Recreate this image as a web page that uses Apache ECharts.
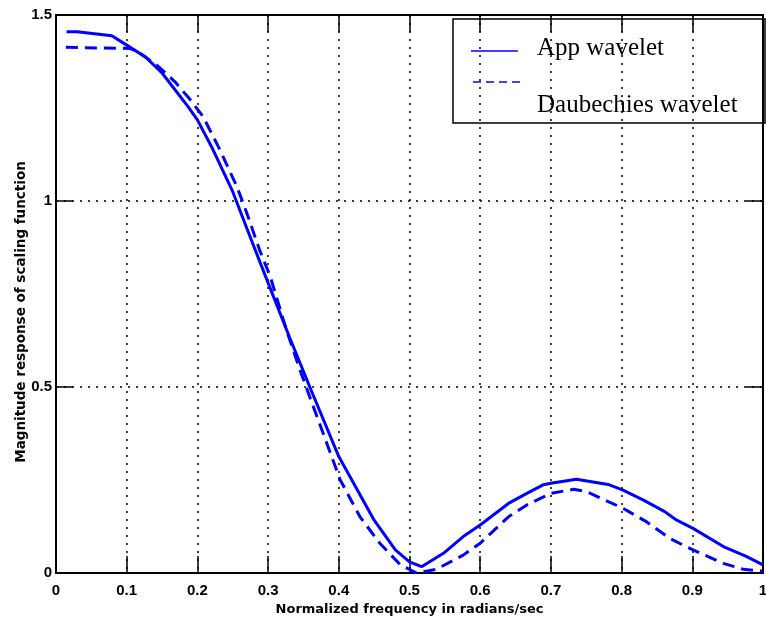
<!DOCTYPE html>
<html>
<head>
<meta charset="utf-8">
<script src="https://cdn.jsdelivr.net/npm/echarts@6/dist/echarts.min.js"></script>
<style>
  html, body { margin: 0; padding: 0; background: #fff; }
  #chart { width: 766px; height: 632px; }
</style>
</head>
<body>
<div id="chart"></div>
<script>
// Normalized frequency samples and magnitude response of the scaling functions
const freqApp = [0.015, 0.03, 0.079, 0.1, 0.126, 0.15, 0.187, 0.2, 0.22, 0.25, 0.28, 0.3, 0.33, 0.359, 0.4, 0.45, 0.48, 0.5, 0.517, 0.548, 0.576, 0.6, 0.64, 0.666, 0.689, 0.7, 0.736, 0.781, 0.802, 0.831, 0.861, 0.878, 0.901, 0.944, 0.977, 1.0];
const magApp  = [1.455, 1.455, 1.444, 1.419, 1.388, 1.344, 1.253, 1.218, 1.146, 1.025, 0.877, 0.78, 0.635, 0.5, 0.313, 0.142, 0.062, 0.03, 0.017, 0.053, 0.098, 0.129, 0.187, 0.214, 0.237, 0.241, 0.252, 0.238, 0.223, 0.196, 0.165, 0.142, 0.12, 0.071, 0.044, 0.022];

const freqDb = [0.014, 0.105, 0.119, 0.142, 0.168, 0.19, 0.208, 0.232, 0.256, 0.27, 0.288, 0.303, 0.326, 0.345, 0.364, 0.383, 0.402, 0.43, 0.458, 0.487, 0.51, 0.538, 0.576, 0.6, 0.64, 0.666, 0.7, 0.732, 0.75, 0.802, 0.835, 0.868, 0.901, 0.944, 0.972, 1.0];
const magDb  = [1.413, 1.41, 1.397, 1.366, 1.321, 1.272, 1.227, 1.137, 1.038, 0.967, 0.868, 0.797, 0.653, 0.546, 0.447, 0.349, 0.25, 0.151, 0.08, 0.022, 0.0, 0.01, 0.048, 0.08, 0.151, 0.183, 0.214, 0.225, 0.219, 0.174, 0.138, 0.093, 0.062, 0.026, 0.01, 0.005];

const seriesNames = ['App wavelet', 'Daubechies wavelet'];
const xTicks = ['0', '0.1', '0.2', '0.3', '0.4', '0.5', '0.6', '0.7', '0.8', '0.9', '1'];
const yTicks = ['0', '0.5', '1', '1.5'];
const xTitle = 'Normalized frequency in radians/sec';
const yTitle = 'Magnitude response of scaling function';

const pairs = (xs, ys) => xs.map((x, i) => [x, ys[i]]);

const BLUE = '#0000ff';
const tickFont = { fontFamily: 'Liberation Sans', fontWeight: 'bold', fontSize: 15, color: '#000' };
const titleFont = { fontFamily: 'DejaVu Sans', fontWeight: 'bold', color: '#000' };
const dotted = { color: '#000', width: 1.5, type: [2, 6] };
const frame = { show: true, onZero: false, lineStyle: { color: '#000', width: 2 } };
const innerTick = { show: true, inside: true, length: 17, lineStyle: { color: '#000', width: 1.5 } };

const chart = echarts.init(document.getElementById('chart'), null, { renderer: 'canvas' });

chart.setOption({
  animation: false,
  backgroundColor: '#fff',
  grid: { left: 56, right: 3, top: 15, bottom: 59, containLabel: false, outerBoundsMode: 'none' },
  xAxis: [
    {
      type: 'value', min: 0, max: 1, interval: 0.1, position: 'bottom',
      axisLine: frame, axisTick: innerTick,
      axisLabel: Object.assign({ margin: 10, formatter: (v) => xTicks[Math.round(v * 10)] }, tickFont),
      splitLine: { show: true, lineStyle: dotted },
      name: xTitle, nameLocation: 'middle', nameGap: 30, nameMoveOverlap: false,
      nameTextStyle: Object.assign({ fontSize: 13 }, titleFont)
    },
    {
      type: 'value', min: 0, max: 1, interval: 0.1, position: 'top',
      axisLine: frame, axisTick: innerTick, axisLabel: { show: false }, splitLine: { show: false }
    }
  ],
  yAxis: [
    {
      type: 'value', min: 0, max: 1.5, interval: 0.5, position: 'left',
      axisLine: frame, axisTick: innerTick,
      axisLabel: Object.assign({ margin: 4, formatter: (v) => yTicks[Math.round(v * 2)] }, tickFont),
      splitLine: { show: true, lineStyle: dotted },
      name: yTitle, nameLocation: 'middle', nameGap: 28, nameRotate: 90, nameMoveOverlap: false,
      nameTextStyle: Object.assign({ fontSize: 13.5, padding: [0, 36, 0, 0] }, titleFont)
    },
    {
      type: 'value', min: 0, max: 1.5, interval: 0.5, position: 'right',
      axisLine: frame, axisTick: innerTick, axisLabel: { show: false }, splitLine: { show: false }
    }
  ],
  series: [
    {
      name: seriesNames[0], type: 'line', xAxisIndex: 0, yAxisIndex: 0,
      data: pairs(freqApp, magApp), showSymbol: false, symbol: 'none',
      lineStyle: { color: BLUE, width: 3 }, z: 3
    },
    {
      name: seriesNames[1], type: 'line', xAxisIndex: 0, yAxisIndex: 0,
      data: pairs(freqDb, magDb), showSymbol: false, symbol: 'none',
      lineStyle: { color: BLUE, width: 3, type: [12, 7] }, z: 3
    }
  ],
  graphic: [
    {
      type: 'group', z: 100,
      children: [
        { type: 'rect', shape: { x: 453, y: 19, width: 312, height: 104 },
          style: { fill: '#fff', stroke: '#000', lineWidth: 1.5 } },
        { type: 'line', shape: { x1: 471, y1: 51, x2: 518, y2: 51 },
          style: { stroke: BLUE, lineWidth: 1.5 } },
        { type: 'line', shape: { x1: 473, y1: 82, x2: 523, y2: 82 },
          style: { stroke: BLUE, lineWidth: 1.5, lineDash: [8, 5] } },
        { type: 'text', x: 537, y: 48,
          style: { text: seriesNames[0], fill: '#000', font: '25px "Liberation Serif"', verticalAlign: 'middle' } },
        { type: 'text', x: 537, y: 105,
          style: { text: seriesNames[1], fill: '#000', font: '25px "Liberation Serif"', verticalAlign: 'middle' } }
      ]
    }
  ]
});
</script>
</body>
</html>
